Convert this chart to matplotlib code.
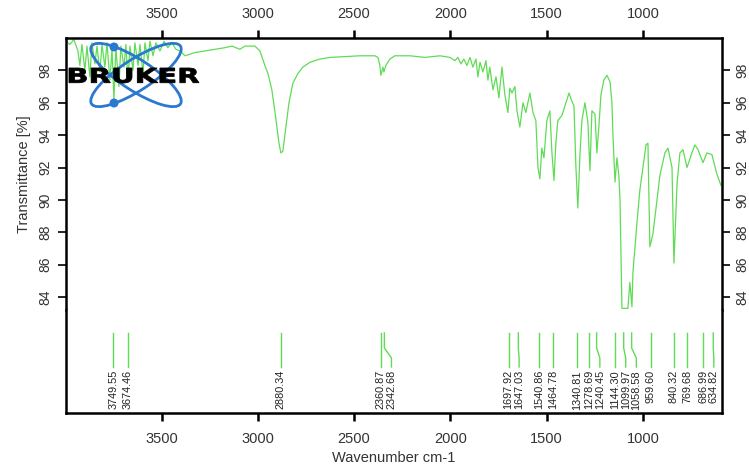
import matplotlib
matplotlib.use("Agg")
import matplotlib.pyplot as plt
from matplotlib.patches import Ellipse, Circle, PathPatch
from matplotlib.textpath import TextPath
from matplotlib.font_manager import FontProperties
from matplotlib.transforms import Affine2D

plt.rcParams["font.family"] = ["Liberation Sans", "DejaVu Sans"]

# -----------------------------
# Spectrum
# -----------------------------
wavenumber = [
    3996, 3976, 3955, 3934, 3924, 3913, 3898, 3887, 3872, 3861, 3846, 3835,
    3820, 3809, 3794, 3783, 3768, 3757, 3747, 3737, 3721, 3711, 3695, 3685,
    3674, 3664, 3648, 3638, 3622, 3612, 3596, 3586, 3570, 3560, 3544, 3529,
    3508, 3487, 3467, 3446, 3425, 3404, 3378, 3326, 3274, 3223, 3171, 3134,
    3093, 3067, 3015, 2989, 2963, 2947, 2927, 2906, 2890, 2880, 2870, 2854,
    2838, 2818, 2792, 2766, 2729, 2677, 2625, 2548, 2470, 2392, 2376, 2366,
    2361, 2350, 2345, 2335, 2314, 2288, 2210, 2132, 2054, 2002, 1976, 1961,
    1945, 1930, 1914, 1898, 1883, 1867, 1857, 1846, 1831, 1815, 1805, 1795,
    1779, 1763, 1748, 1732, 1717, 1701, 1691, 1680, 1665, 1654, 1639, 1623,
    1608, 1587, 1571, 1556, 1545, 1535, 1525, 1514, 1499, 1483, 1473, 1462,
    1452, 1442, 1421, 1400, 1384, 1369, 1358, 1348, 1338, 1327, 1317, 1301,
    1291, 1286, 1275, 1265, 1249, 1239, 1229, 1218, 1203, 1187, 1171, 1161,
    1156, 1145, 1135, 1125, 1119, 1109, 1078, 1068, 1057, 1052, 1031, 1016,
    1000, 984, 974, 964, 948, 927, 912, 886, 870, 849, 839, 823,
    808, 792, 771, 746, 730, 714, 688, 668, 642, 616, 595,
]
transmittance = [
    99.8, 99.6, 99.9, 99.2, 98.3, 99.6, 98.0, 99.5, 97.6, 99.7, 98.4, 99.5,
    97.9, 99.6, 98.2, 99.7, 97.4, 99.3, 96.2, 99.4, 97.0, 99.5, 98.2, 99.6,
    97.3, 99.5, 98.0, 99.7, 98.3, 99.6, 97.8, 99.7, 98.6, 99.8, 98.9, 99.7,
    99.2, 99.8, 99.4, 99.7, 99.3, 99.2, 98.9, 99.1, 99.2, 99.3, 99.4, 99.5,
    99.3, 99.5, 99.5, 99.2, 98.3, 97.8, 96.8, 95.0, 93.5, 92.9, 93.0, 94.5,
    96.0, 97.2, 97.8, 98.2, 98.5, 98.7, 98.8, 98.85, 98.9, 98.9, 98.8, 98.3,
    97.7, 98.2, 97.9, 98.3, 98.7, 98.9, 98.9, 98.8, 98.9, 98.8, 98.6, 98.8,
    98.4, 98.7, 98.3, 98.8, 98.2, 98.7, 97.6, 98.5, 97.9, 98.6, 97.4, 98.2,
    96.8, 97.6, 96.3, 98.2, 96.5, 95.4, 96.9, 96.6, 97.0, 95.5, 94.5, 96.0,
    95.4, 96.6, 95.4, 94.9, 92.0, 91.3, 93.2, 92.6, 94.9, 95.5, 93.0, 91.2,
    93.5, 94.9, 95.2, 96.0, 96.6, 96.1, 95.8, 92.0, 89.5, 92.8, 94.9, 96.0,
    95.2, 94.8, 91.8, 95.5, 95.3, 92.9, 94.5, 96.5, 97.4, 97.7, 97.3, 96.0,
    94.1, 91.1, 92.6, 91.5, 90.0, 83.3, 83.3, 84.9, 83.4, 85.5, 88.6, 90.6,
    92.0, 93.4, 93.5, 87.1, 87.9, 90.0, 91.5, 92.9, 93.2, 92.0, 86.1, 91.0,
    92.9, 93.1, 92.0, 92.9, 93.4, 93.1, 92.3, 92.9, 92.8, 91.6, 90.9,
]

peaks = [3749.55, 3674.46, 2880.34, 2360.87, 2342.68, 1697.92, 1647.03,
         1540.86, 1464.78, 1340.81, 1278.69, 1240.45, 1144.30, 1099.97,
         1058.58, 959.60, 840.32, 769.68, 686.99, 634.82]

xticks = [3500, 3000, 2500, 2000, 1500, 1000]
yticks = [84, 86, 88, 90, 92, 94, 96, 98]

green = "#5fdc55"
tick_color = "#333333"

fig = plt.figure(figsize=(7.49, 4.66), dpi=100)
ax = fig.add_axes([0.0881, 0.3348, 0.8757, 0.5837])
ax2 = fig.add_axes([0.0881, 0.1137, 0.8757, 0.2211])

# -----------------------------
# Top panel: spectrum
# -----------------------------
ax.plot(wavenumber, transmittance, color=green, linewidth=0.9)
ax.set_xlim(3996, 590)
ax.set_ylim(83.2, 100)
ax.set_xticks(xticks)
ax.set_yticks(yticks)
ax.xaxis.tick_top()
ax.tick_params(axis="x", direction="out", length=6, width=1.8, pad=6,
               labelsize=10.5, labelcolor=tick_color)
ax.tick_params(axis="y", direction="out", length=6, width=1.2, pad=4,
               labelsize=10, labelcolor=tick_color, labelrotation=90,
               left=True, right=True, labelleft=True, labelright=True)
for lab in ax.get_yticklabels():
    lab.set_va("center")
ax.spines["bottom"].set_visible(False)
for s in ["top", "left", "right"]:
    ax.spines[s].set_linewidth(1.8)
ax.set_ylabel("Transmittance [%]", fontsize=10.5, color=tick_color, labelpad=5)

# -----------------------------
# Bottom panel: peak picks
# -----------------------------
# spread labels so they don't overlap
gap = 55
label_pos = []
for p in peaks:
    if label_pos:
        label_pos.append(min(p, label_pos[-1] - gap))
    else:
        label_pos.append(p)

for p, lp in zip(peaks, label_pos):
    ax2.plot([p, p, lp, lp], [0.777, 0.631, 0.534, 0.447],
             color=green, linewidth=1.0)
    ax2.text(lp, 0.417, f"{p:.2f}", rotation=90, ha="center", va="top",
             fontsize=7.8, color="#222222")

ax2.set_xlim(3996, 590)
ax2.set_ylim(0, 1)
ax2.set_xticks(xticks)
ax2.set_yticks([])
ax2.tick_params(axis="x", direction="out", length=6, width=1.8, pad=8,
                labelsize=10.5, labelcolor=tick_color)
ax2.spines["top"].set_visible(False)
for s in ["bottom", "left", "right"]:
    ax2.spines[s].set_linewidth(1.8)
ax2.set_xlabel("Wavenumber cm-1", fontsize=10.5, color=tick_color, labelpad=3)

# -----------------------------
# Bruker logo (pixel coords)
# -----------------------------
logo = fig.add_axes([0, 0, 1, 1], zorder=5)
logo.set_xlim(0, 749)
logo.set_ylim(466, 0)
logo.axis("off")
logo.patch.set_alpha(0)
blue = "#2a78d0"
for ang in (33, -33):
    logo.add_patch(Ellipse((136, 75), 106, 31, angle=ang, fill=False,
                           edgecolor=blue, linewidth=2.0))
logo.add_patch(Circle((114, 47), 3.8, color=blue))
logo.add_patch(Circle((114, 103), 3.8, color=blue))

# stretched heavy lettering
tp = TextPath((0, 0), "BRUKER", size=10,
              prop=FontProperties(family="DejaVu Sans", weight="bold"))
bb = tp.get_extents()
tr = (Affine2D().translate(-bb.x0, -bb.y0)
      .scale(130 / bb.width, -15 / bb.height).translate(69, 83))
logo.add_patch(PathPatch(tr.transform_path(tp), facecolor="black",
                         edgecolor="black", linewidth=0.6))

fig.savefig("out.png", dpi=100)
